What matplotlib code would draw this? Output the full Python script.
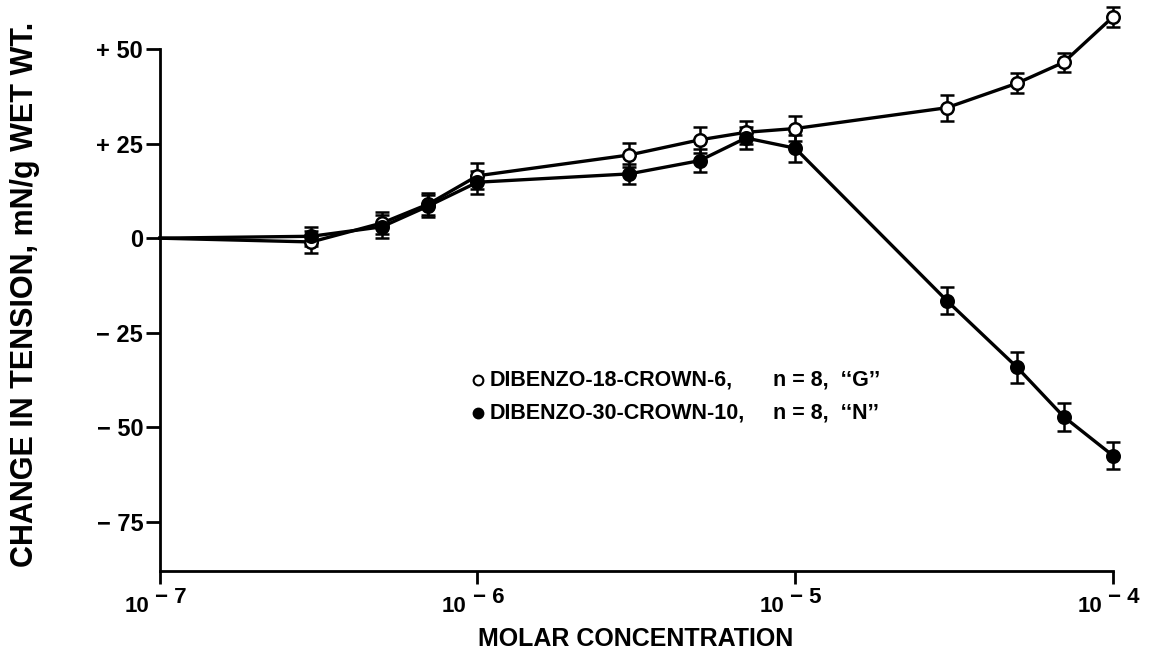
import matplotlib
matplotlib.use("Agg")
import matplotlib.pyplot as plt
import matplotlib.transforms as mtransforms

plt.rcParams["font.family"] = ["Liberation Sans", "DejaVu Sans"]
plt.rcParams["font.weight"] = "bold"

conc = [1e-7, 3e-7, 5e-7, 7e-7, 1e-6, 3e-6, 5e-6, 7e-6, 1e-5, 3e-5, 5e-5, 7e-5, 1e-4]
g_vals = [0, -1.0, 4.0, 9.0, 16.5, 22.0, 26.0, 28.0, 29.0, 34.5, 41.0, 46.5, 58.5]
g_err = [0, 3.0, 3.0, 3.0, 3.5, 3.3, 3.5, 3.0, 3.3, 3.4, 2.7, 2.6, 2.7]
n_vals = [0, 0.5, 3.0, 8.5, 14.8, 17.0, 20.5, 26.5, 23.8, -16.5, -34.2, -47.2, -57.5]
n_err = [0, 2.5, 3.0, 3.0, 3.0, 2.6, 3.0, 3.0, 3.6, 3.6, 4.0, 3.7, 3.5]

yticks = [50, 25, 0, -25, -50, -75]
ytick_labels = ["+ 50", "+ 25", "0", "\u2212 25", "\u2212 50", "\u2212 75"]
xticks = [1e-7, 1e-6, 1e-5, 1e-4]
xexp = ["\u2212 7", "\u2212 6", "\u2212 5", "\u2212 4"]

fig = plt.figure(figsize=(11.58, 6.63), dpi=100)
ax = fig.add_axes([0.138, 0.139, 0.823, 0.861])

lw = 2.4
for vals, err, face in [(g_vals, g_err, "white"), (n_vals, n_err, "black")]:
    ax.plot(conc, vals, color="black", lw=lw, zorder=2, clip_on=False)
    eb = ax.errorbar(conc[1:], vals[1:], yerr=err[1:], fmt="o", ms=9,
                     mfc=face, mec="black", mew=1.8, ecolor="black",
                     elinewidth=1.8, capsize=5, capthick=1.8, zorder=3)
    for art in eb.lines[0:1] + tuple(eb.lines[1]) + tuple(eb.lines[2]):
        art.set_clip_on(False)

ax.set_xscale("log")
ax.set_xlim(1e-7, 1e-4)
ax.set_ylim(-88, 63)
ax.xaxis.set_minor_locator(matplotlib.ticker.NullLocator())

for s in ["top", "right"]:
    ax.spines[s].set_visible(False)
ax.spines["left"].set_bounds(-88, 50)
ax.spines["left"].set_linewidth(2)
ax.spines["bottom"].set_linewidth(2)

ax.set_yticks(yticks)
ax.set_yticklabels(ytick_labels, fontsize=17, fontweight="bold")
ax.set_xticks(xticks)
ax.set_xticklabels([""] * len(xticks))
ax.tick_params(axis="y", direction="out", length=10, width=2, pad=2)
ax.tick_params(axis="x", direction="out", length=9, width=2)

trans = mtransforms.blended_transform_factory(ax.transData, ax.transAxes)
for xt, ex in zip(xticks, xexp):
    ax.annotate("10", xy=(xt, 0), xycoords=trans, xytext=(-23, -36),
                textcoords="offset pixels", ha="center", va="center",
                fontsize=16, fontweight="bold")
    ax.annotate(ex, xy=(xt, 0), xycoords=trans, xytext=(11, -27),
                textcoords="offset pixels", ha="center", va="center",
                fontsize=16, fontweight="bold")

fig.text(0.549, 0.036, "MOLAR CONCENTRATION", ha="center", va="center",
         fontsize=18, fontweight="bold")
fig.text(0.022, 0.556, "CHANGE IN TENSION, mN/g WET WT.", rotation=90,
         ha="center", va="center", fontsize=22, fontweight="bold")

# legend
leg_rows = [("white", "DIBENZO-18-CROWN-6,", "n = 8,  \u2018\u2018G\u2019\u2019", 0.334),
            ("black", "DIBENZO-30-CROWN-10,", "n = 8,  \u2018\u2018N\u2019\u2019", 0.277)]
for face, name, extra, yy in leg_rows:
    ax.plot([0.334], [yy], transform=ax.transAxes, marker="o", ms=7,
            mfc=face, mec="black", mew=1.5, ls="none", clip_on=False)
    ax.text(0.346, yy, name, transform=ax.transAxes, ha="left", va="center",
            fontsize=15.5, fontweight="bold")
    ax.text(0.643, yy, extra, transform=ax.transAxes, ha="left", va="center",
            fontsize=15.5, fontweight="bold")

fig.savefig("out.png", dpi=100)
